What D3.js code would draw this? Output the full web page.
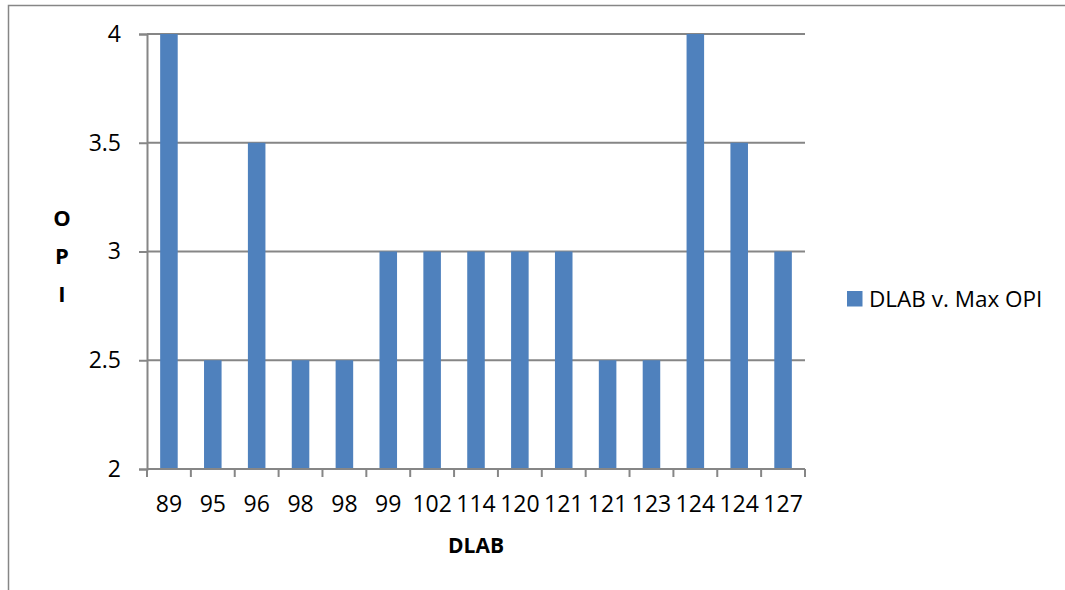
<!DOCTYPE html>
<html>
<head>
<meta charset="utf-8">
<script src="https://cdn.jsdelivr.net/npm/d3@7"></script>
<style>
  html, body { margin: 0; padding: 0; background: #fff; }
  svg { display: block; }
  text { font-family: "Open Sans", "Liberation Sans", sans-serif; fill: #000; }
</style>
</head>
<body>
<svg id="chart" width="1065" height="590"></svg>
<script>
// DLAB score per subject, with the maximum OPI reached
const dlabLabels = ["89", "95", "96", "98", "98", "99", "102", "114", "120", "121", "121", "123", "124", "124", "127"];
const maxOpi = [4, 2.5, 3.5, 2.5, 2.5, 3, 3, 3, 3, 3, 2.5, 2.5, 4, 3.5, 3];
const yTicks = [2, 2.5, 3, 3.5, 4];
const seriesName = "DLAB v. Max OPI";

const svg = d3.select("#chart");
const gridColor = "#868686";
const barColor = "#4F81BD";

// outer chart frame
svg.append("rect")
  .attr("x", 8.5).attr("y", 5.5)
  .attr("width", 1070).attr("height", 600)
  .attr("fill", "none")
  .attr("stroke", gridColor)
  .attr("stroke-width", 1.5);

const plot = { left: 147, right: 805, top: 34, bottom: 469 };

const x = d3.scaleBand()
  .domain(d3.range(dlabLabels.length))
  .range([plot.left, plot.right])
  .paddingInner(0.6)
  .paddingOuter(0.3);

const y = d3.scaleLinear()
  .domain([2, 4])
  .range([plot.bottom, plot.top]);

// horizontal gridlines
svg.append("g")
  .selectAll("line")
  .data(yTicks.filter(t => t !== 2))
  .join("line")
  .attr("x1", plot.left).attr("x2", plot.right)
  .attr("y1", d => y(d)).attr("y2", d => y(d))
  .attr("stroke", gridColor)
  .attr("stroke-width", 2);

// bars
svg.append("g")
  .selectAll("rect")
  .data(maxOpi)
  .join("rect")
  .attr("x", (d, i) => x(i))
  .attr("width", x.bandwidth())
  .attr("y", d => y(d))
  .attr("height", d => y(2) - y(d))
  .attr("fill", barColor);

// y axis
const yAxis = svg.append("g")
  .attr("transform", `translate(${plot.left},0)`)
  .call(d3.axisLeft(y).tickValues(yTicks).tickSize(8).tickPadding(18)
    .tickFormat(d3.format("~g")));
yAxis.select(".domain").attr("stroke", gridColor).attr("stroke-width", 2);
yAxis.selectAll(".tick line").attr("stroke", gridColor).attr("stroke-width", 2);
yAxis.selectAll(".tick text")
  .attr("font-size", 23)
  .attr("font-family", "'Open Sans', sans-serif")
  .attr("fill", "#000");

// x axis: ticks sit on category boundaries
const xAxisG = svg.append("g");
xAxisG.append("line")
  .attr("x1", plot.left).attr("x2", plot.right)
  .attr("y1", plot.bottom).attr("y2", plot.bottom)
  .attr("stroke", gridColor).attr("stroke-width", 2);
const step = x.step();
const boundaries = d3.range(dlabLabels.length + 1).map(i => plot.left + i * step);
xAxisG.selectAll("line.tk")
  .data(boundaries)
  .join("line")
  .attr("class", "tk")
  .attr("x1", d => d).attr("x2", d => d)
  .attr("y1", plot.bottom).attr("y2", plot.bottom + 8)
  .attr("stroke", gridColor).attr("stroke-width", 2);
xAxisG.selectAll("text")
  .data(dlabLabels)
  .join("text")
  .attr("x", (d, i) => x(i) + x.bandwidth() / 2)
  .attr("y", 512)
  .attr("text-anchor", "middle")
  .attr("font-size", 23)
  .text(d => d);

// axis titles
svg.append("text")
  .attr("x", 476).attr("y", 553)
  .attr("text-anchor", "middle")
  .attr("font-size", 21)
  .attr("font-weight", "bold")
  .text("DLAB");

svg.append("g")
  .selectAll("text")
  .data(["O", "P", "I"])
  .join("text")
  .attr("x", 62)
  .attr("y", (d, i) => 226 + i * 38)
  .attr("text-anchor", "middle")
  .attr("font-size", 22)
  .attr("font-weight", "bold")
  .text(d => d);

// legend
const legend = svg.append("g");
legend.append("rect")
  .attr("x", 847).attr("y", 291)
  .attr("width", 15.5).attr("height", 15.5)
  .attr("fill", barColor);
legend.append("text")
  .attr("x", 869).attr("y", 307)
  .attr("font-size", 22.5)
  .text(seriesName);
</script>
</body>
</html>
